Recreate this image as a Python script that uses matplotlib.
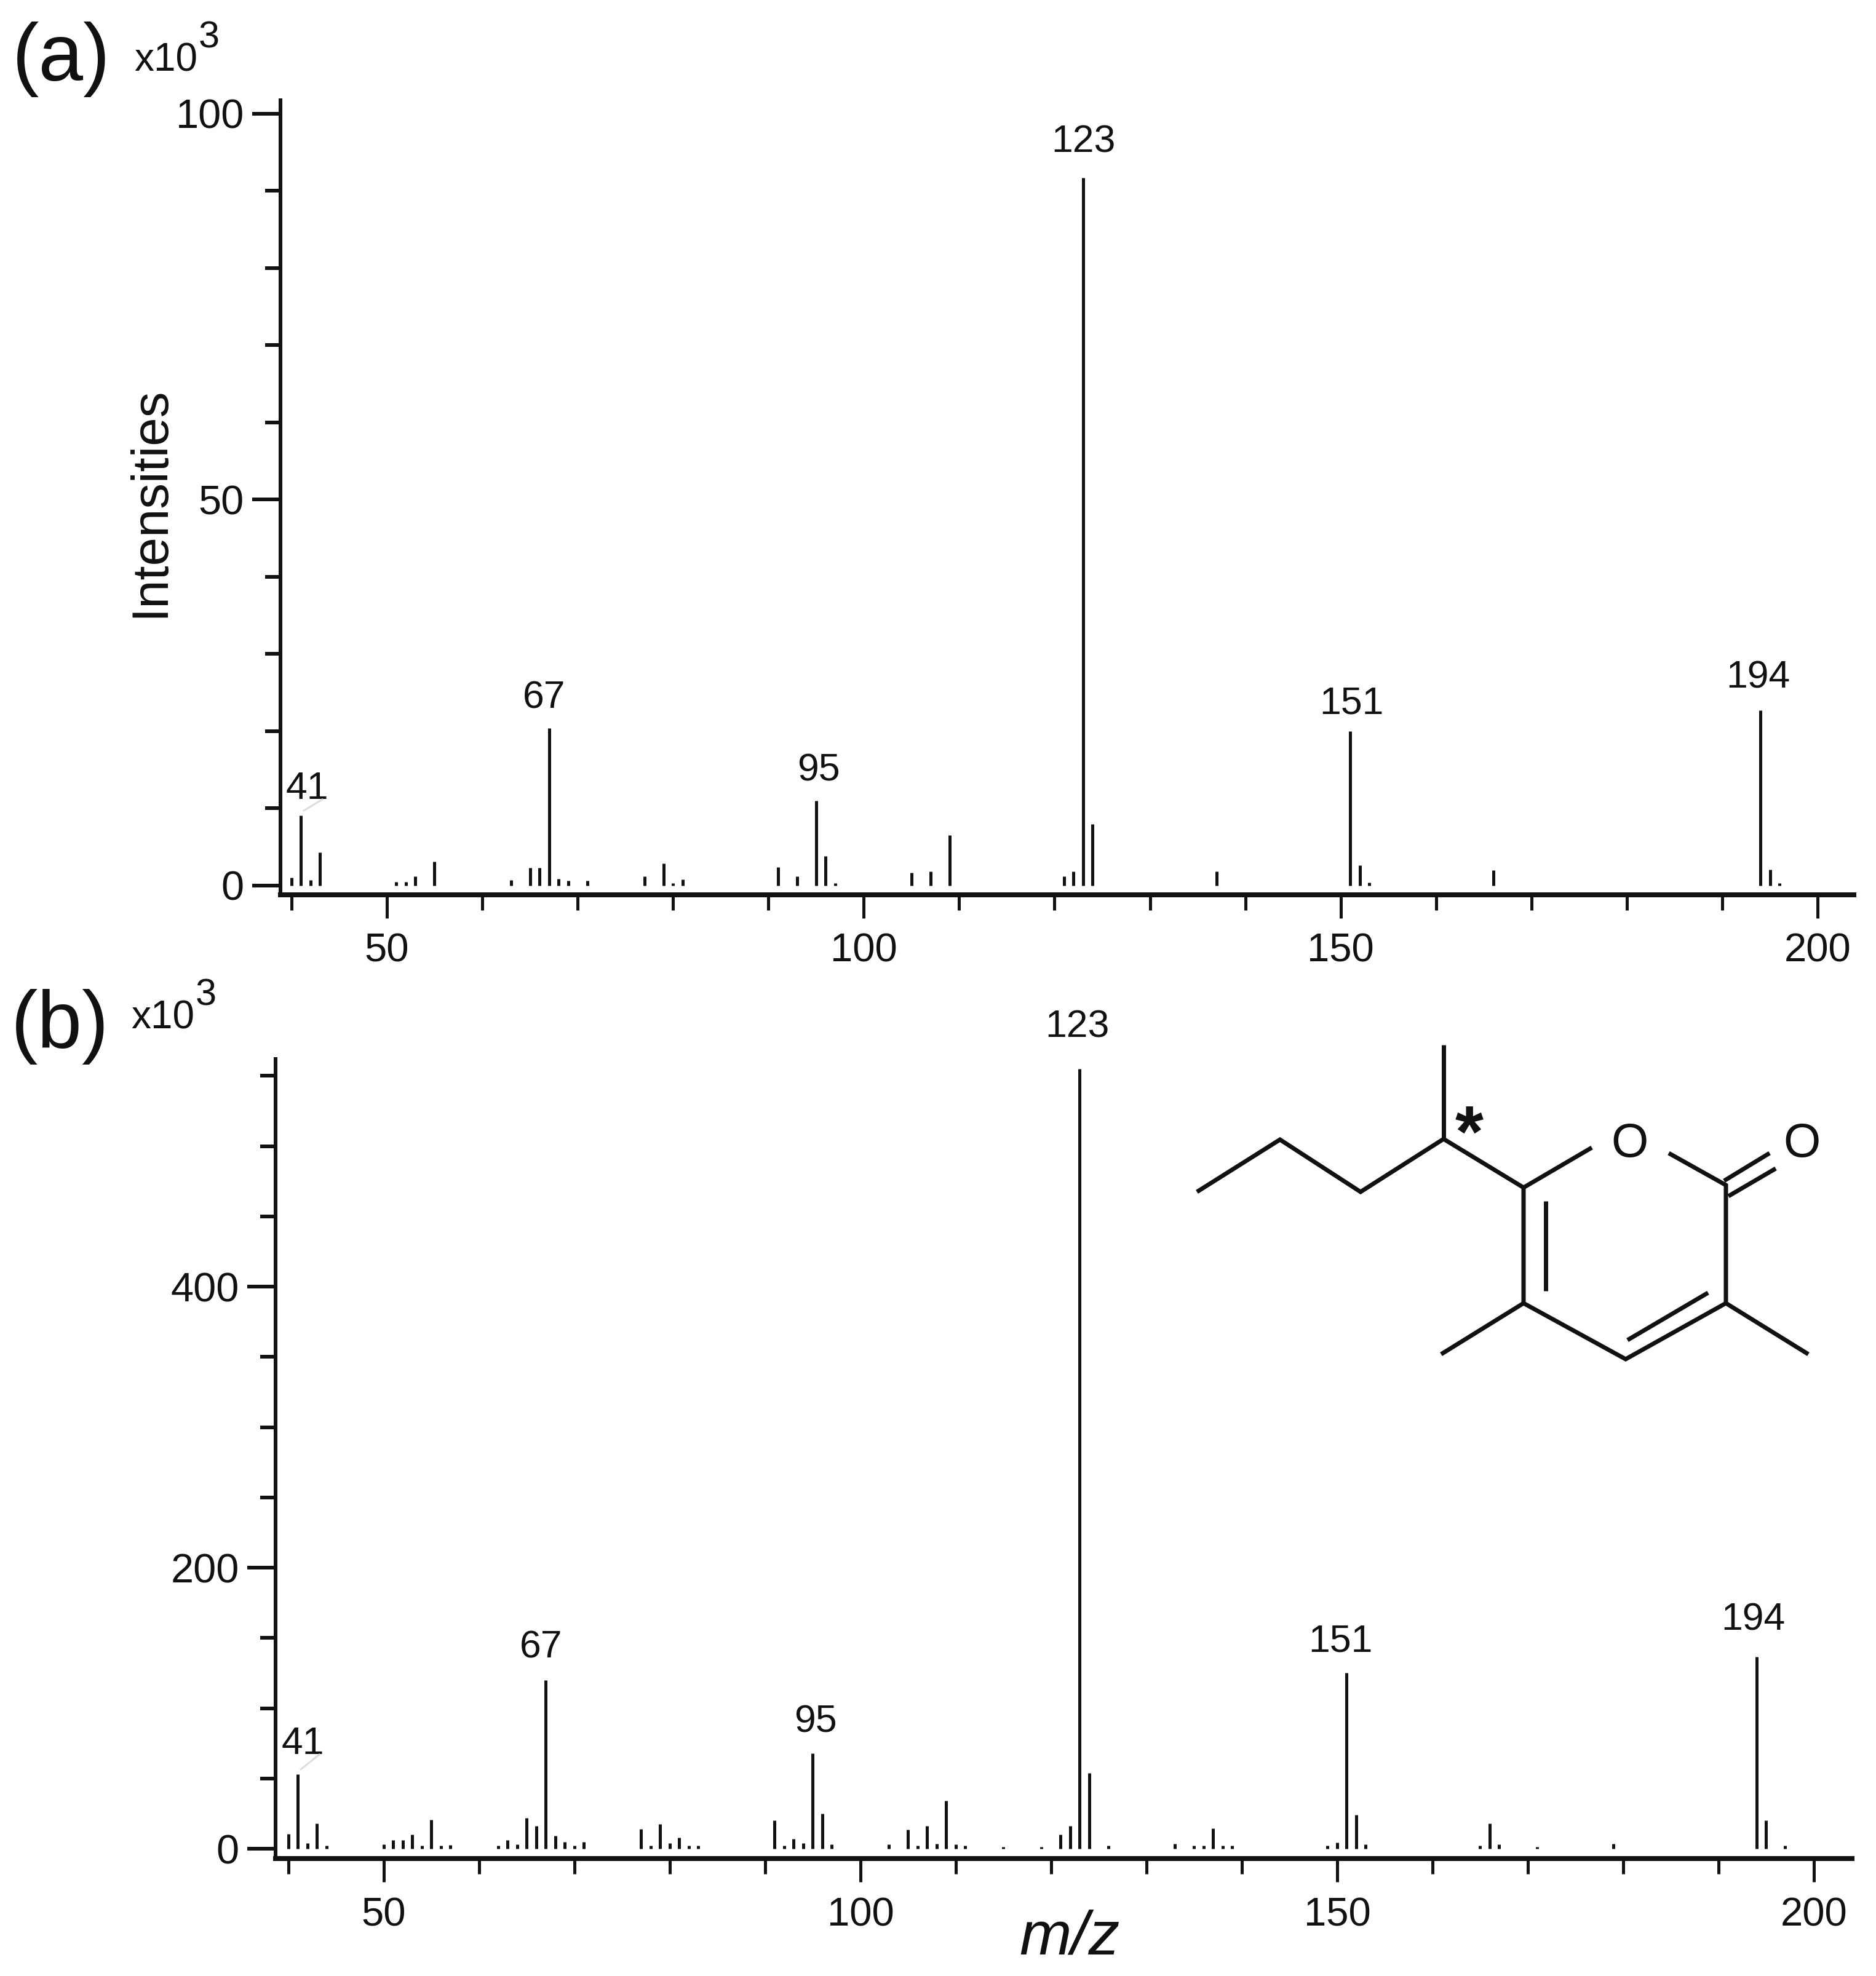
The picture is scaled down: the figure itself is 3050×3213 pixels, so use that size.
import matplotlib
matplotlib.use("Agg")
import matplotlib.pyplot as plt
from matplotlib.ticker import FixedLocator

plt.rcParams["font.family"] = ["Liberation Sans", "DejaVu Sans"]

W, H = 3050, 3213
DPI = 100
INK = "#111111"
PX = 72 / DPI  # one pixel in points

# spectrum (a)
mz_a = [40, 41, 42, 43, 51, 52, 53, 55, 63, 65, 66, 67, 68, 69, 71, 77, 79, 80, 81,
        91, 93, 95, 96, 97, 105, 107, 109, 121, 122, 123, 124, 137, 151, 152, 153,
        166, 194, 195, 196]
int_a = [1.0, 9.1, 0.7, 4.3, 0.5, 0.5, 1.2, 3.1, 0.7, 2.3, 2.3, 20.4, 0.9, 0.6, 0.6,
         1.2, 2.9, 0.3, 0.8, 2.4, 1.2, 11.0, 3.8, 0.3, 1.7, 1.8, 6.5, 1.2, 1.8, 91.7,
         8.0, 1.8, 20.0, 2.6, 0.4, 2.0, 22.7, 2.1, 0.3]

# spectrum (b)
mz_b = [40, 41, 42, 43, 44, 50, 51, 52, 53, 54, 55, 56, 57, 62, 63, 64, 65, 66, 67, 68,
        69, 70, 71, 77, 78, 79, 80, 81, 82, 83, 91, 92, 93, 94, 95, 96, 97, 103, 105,
        106, 107, 108, 109, 110, 111, 115, 119, 121, 122, 123, 124, 126, 133, 135, 136,
        137, 138, 139, 149, 150, 151, 152, 153, 165, 166, 167, 171, 179, 194, 195, 197]
int_b = [10.5, 53, 4, 18, 2, 3, 6, 6, 10, 2, 20.5, 2, 2.5, 2, 6, 3, 22, 16, 120, 9,
         5, 2, 5, 14, 2, 17.5, 4, 8, 2, 2, 20, 2, 7, 4, 68, 25, 3, 3, 13.4,
         2, 16.3, 3.6, 34, 3, 2, 1.5, 1.5, 10, 16, 555, 54, 2, 3.5, 2, 2,
         14.5, 2, 2, 2, 4.5, 125, 24, 3, 2, 18, 3, 1.5, 3.5, 136.5, 20, 2]

label_mz = [41, 67, 95, 123, 151, 194]
label_off_a = [(10, 43), (-8, 49), (4, 49), (0, 58), (2, 45), (-4, 53)]
label_off_b = [(8, 49), (-8, 53), (4, 51), (-4, 68), (-10, 51), (-6, 60)]

x_major = [50, 100, 150, 200]
x_minor = [40, 60, 70, 80, 90, 110, 120, 130, 140, 160, 170, 180, 190]
y_major_a = [0, 50, 100]
y_minor_a = [10, 20, 30, 40, 60, 70, 80, 90]
y_major_b = [0, 200, 400]
y_minor_b = [50, 100, 150, 250, 300, 350, 450, 500, 550]

fig = plt.figure(figsize=(W / DPI, H / DPI), dpi=DPI, facecolor="white")


def make_axes(left, right, top, bottom, xlim, ylim):
    ax = fig.add_axes([left / W, 1 - bottom / H, (right - left) / W, (bottom - top) / H])
    ax.set_xlim(*xlim)
    ax.set_ylim(*ylim)
    return ax


def draw_spectrum(ax, mz, intensity, y_major, y_minor, offsets):
    ax.vlines(mz, 0, intensity, color=INK, lw=5 * PX)
    for sp in ["top", "right"]:
        ax.spines[sp].set_visible(False)
    ax.spines["left"].set_linewidth(6 * PX)
    ax.spines["bottom"].set_linewidth(8 * PX)
    ax.spines["left"].set_color(INK)
    ax.spines["bottom"].set_color(INK)
    ax.xaxis.set_major_locator(FixedLocator(x_major))
    ax.xaxis.set_minor_locator(FixedLocator(x_minor))
    ax.yaxis.set_major_locator(FixedLocator(y_major))
    ax.yaxis.set_minor_locator(FixedLocator(y_minor))
    ax.tick_params(axis="x", which="major", length=38 * PX, width=5 * PX, pad=24 * PX,
                   labelsize=47, color=INK, labelcolor=INK)
    ax.tick_params(axis="x", which="minor", length=25 * PX, width=5 * PX, color=INK)
    ax.tick_params(axis="y", which="major", length=46 * PX, width=6 * PX, pad=13 * PX,
                   labelsize=48, color=INK, labelcolor=INK)
    ax.tick_params(axis="y", which="minor", length=25 * PX, width=6 * PX, color=INK)
    for m, (dx, dy) in zip(label_mz, offsets):
        ax.annotate(str(m), xy=(m, intensity[mz.index(m)]), xytext=(dx * PX, dy * PX),
                    textcoords="offset points", ha="center", va="center",
                    fontsize=45, color=INK)


ax_a = make_axes(456, 3014, 163, 1455, (38.85, 203.8), (-1.2, 101.75))
draw_spectrum(ax_a, mz_a, int_a, y_major_a, y_minor_a, label_off_a)

ax_b = make_axes(448, 3011, 1722, 3022, (38.65, 204.0), (-7, 562))
draw_spectrum(ax_b, mz_b, int_b, y_major_b, y_minor_b, label_off_b)

# overlay in pixel coords for panel letters and the structure
ov = fig.add_axes([0, 0, 1, 1])
ov.set_xlim(0, W)
ov.set_ylim(H, 0)
ov.axis("off")
ov.patch.set_alpha(0)

ov.text(100, 96, "(a)", fontsize=94, ha="center", va="center", color=INK)
ov.text(98, 1669, "(b)", fontsize=94, ha="center", va="center", color=INK)
ov.text(218, 115, "x10", fontsize=46, ha="left", va="baseline", color=INK)
ov.text(323, 77, "3", fontsize=44, ha="left", va="baseline", color=INK)
ov.text(213, 1672, "x10", fontsize=46, ha="left", va="baseline", color=INK)
ov.text(318, 1634, "3", fontsize=44, ha="left", va="baseline", color=INK)
ov.text(244, 816, "Intensities", fontsize=60, rotation=90, ha="center", va="center", color=INK)
ov.text(1739, 3177, "m/z", fontsize=73, style="italic", ha="center", va="baseline", color=INK)

# faint leader lines next to the 41 labels
ov.plot([494, 524], [1318, 1300], color="#dddddd", lw=3 * PX)
ov.plot([489, 519], [2877, 2853], color="#dddddd", lw=3 * PX)

bonds = [
    [(1946, 1938), (2081, 1853), (2212, 1938), (2347, 1852), (2477, 1931), (2588, 1866)],
    [(2347, 1699), (2347, 1852)],
    [(2477, 1931), (2477, 2119), (2643, 2210), (2806, 2119), (2806, 1927), (2713, 1875)],
    [(2513, 1953), (2513, 2099)],
    [(2646, 2179), (2777, 2102)],
    [(2803, 1920), (2877, 1875)],
    [(2810, 1945), (2887, 1900)],
    [(2477, 2119), (2343, 2202)],
    [(2806, 2119), (2940, 2202)],
]
for bond in bonds:
    ov.plot([p[0] for p in bond], [p[1] for p in bond], color=INK, lw=7 * PX,
            solid_joinstyle="miter", solid_capstyle="butt")

ov.text(2650, 1860, "O", fontsize=56, ha="center", va="center", color=INK)
ov.text(2930, 1860, "O", fontsize=56, ha="center", va="center", color=INK)
ov.text(2389, 1850, "*", fontsize=85, fontweight="bold", ha="center", va="center", color=INK)

fig.savefig("out.png", dpi=DPI, facecolor="white")
